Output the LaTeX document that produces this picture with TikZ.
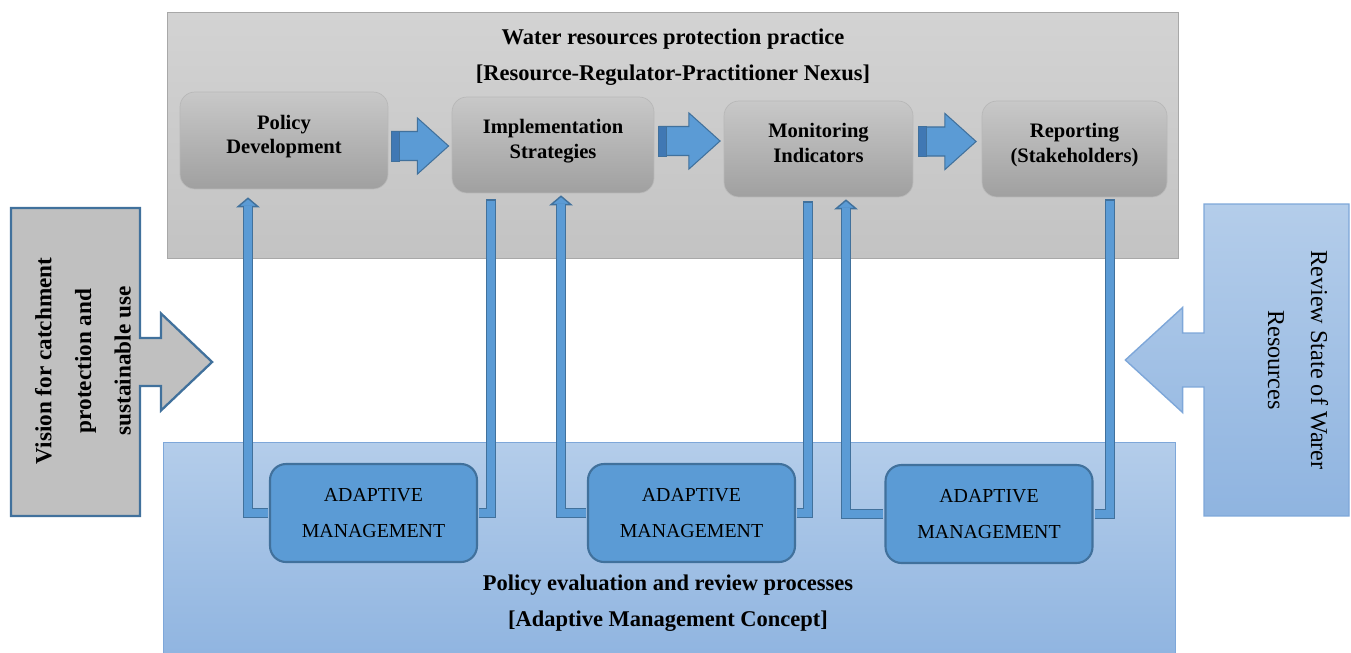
\documentclass[tikz,border=0pt]{standalone}
\usepackage{fontspec}
\setmainfont{Liberation Serif}
\usetikzlibrary{shapes.arrows,arrows.meta,calc}

\definecolor{pipefill}{HTML}{5B9BD5}
\definecolor{pipeedge}{HTML}{41719C}
\definecolor{stripecol}{HTML}{4078B4}
\definecolor{greytop}{HTML}{D3D3D3}
\definecolor{greybot}{HTML}{C3C3C3}
\definecolor{greyline}{HTML}{A8A8A8}
\definecolor{boxtop}{HTML}{C8C8C8}
\definecolor{boxbot}{HTML}{A0A0A0}
\definecolor{boxline}{HTML}{B8B8B8}
\definecolor{bluetop}{HTML}{B4CDEA}
\definecolor{bluebot}{HTML}{8FB4E0}
\definecolor{blueline}{HTML}{7EA7D9}
\definecolor{visfill}{HTML}{C0C0C0}

\newcommand{\lift}{\rule[-0.24cm]{0pt}{0pt}}

\tikzset{
  panel/.style={draw=greyline, top color=greytop, bottom color=greybot, inner sep=0pt},
  bluepanel/.style={draw=blueline, top color=bluetop, bottom color=bluebot, inner sep=0pt},
  procbox/.style={rounded corners=0.3cm, draw=boxline, top color=boxtop, bottom color=boxbot,
    align=center, inner sep=0pt, minimum height=1.92cm,
    font=\fontsize{11.7}{14}\selectfont\bfseries},
  amgbox/.style={rounded corners=0.32cm, draw=pipeedge, line width=1.2pt, fill=pipefill,
    align=center, minimum width=4.14cm, minimum height=1.96cm,
    font=\fontsize{11.3}{13.5}\selectfont},
  title/.style={align=center, font=\fontsize{12.8}{15}\selectfont\bfseries},
  flowarrow/.style={single arrow, draw=pipeedge, fill=pipefill, line width=0.6pt,
    inner xsep=0pt, inner ysep=0.28cm,
    single arrow head extend=0.27cm, single arrow tip angle=84},
  stripe/.style={draw=pipeedge, fill=stripecol, line width=0.4pt},
  pipe/.style={draw=pipeedge, line width=0.21cm, line join=miter,
    postaction={draw=pipefill, line width=0.15cm, arrows=-, #1}},
  pipe/.default={shorten <=0.03cm},
  uparrow/.style={-{Triangle[width=0.47cm, length=0.2cm, fill=pipefill, line width=0.8pt]}},
}

\begin{document}
\begin{tikzpicture}[x=0.02cm, y=-0.02cm]
  \useasboundingbox (0,0) rectangle (1351,652);
  \clip (0,0) rectangle (1351,652);

  % panels
  \node[panel, minimum width=20.22cm, minimum height=4.92cm] (practice) at (672.5,135) {};
  \node[bluepanel, minimum width=20.24cm, minimum height=4.4cm] (review) at (669,552) {};
  \node[title] (practicetitle) at (673,57)
    {Water resources protection practice\\[5.5pt]{[Resource-Regulator-Practitioner Nexus]}};
  \node[title] (reviewtitle) at (668,603)
    {Policy evaluation and review processes\\[5.5pt]{[Adaptive Management Concept]}};

  % side boxes
  \node[arrow box, arrow box arrows={east:1.42cm}, arrow box shaft width=0.96cm,
    arrow box head extend=0.49cm, arrow box tip angle=87, draw=pipeedge, line width=1.3pt,
    fill=visfill, inner sep=0pt, minimum width=2.58cm, minimum height=6.16cm] (vision) at (75.5,362) {};
  \node[rotate=90, align=center, font=\fontsize{13.2}{15.5}\selectfont\bfseries] (visiontext) at (83,361)
    {Vision for catchment\\[7pt]protection and\\[7pt]sustainable use};
  \node[arrow box, arrow box arrows={west:1.56cm}, arrow box shaft width=1.08cm,
    arrow box head extend=0.51cm, arrow box tip angle=85, bluepanel, line width=0.8pt,
    minimum width=2.9cm, minimum height=6.24cm] (state) at (1276.5,360) {};
  \node[rotate=-90, align=center, font=\fontsize{13.8}{16.5}\selectfont] (statetext) at (1298,360)
    {Review State of Warer\\[8pt]Resources};

  % practice steps
  \node[procbox, minimum width=4.16cm, minimum height=1.94cm] (pd) at (284,140.5) {Policy\\Development\lift};
  \node[procbox, minimum width=4.04cm] (is) at (553,145) {Implementation\\Strategies\lift};
  \node[procbox, minimum width=3.78cm] (mi) at (818.5,149) {Monitoring\\Indicators\lift};
  \node[procbox, minimum width=3.7cm] (rs) at (1074.5,149) {Reporting\\(Stakeholders)\lift};

  \node[flowarrow, minimum height=1.14cm] (a1) at ([xshift=-0.16cm,yshift=-0.065cm]$(pd.east)!0.5!(is.west)$) {};
  \node[flowarrow, minimum height=1.22cm] (a2) at ([xshift=-0.15cm,yshift=0.12cm]$(is.east)!0.5!(mi.west)$) {};
  \node[flowarrow, minimum height=1.14cm] (a3) at ([xshift=-0.16cm,yshift=0.15cm]$(mi.east)!0.5!(rs.west)$) {};
  \foreach \a in {a1,a2,a3}
    \draw[stripe] (\a.before tail) rectangle ([xshift=0.16cm]\a.after tail);

  % adaptive management
  \node[amgbox] (am1) at (373.5,513) {ADAPTIVE\\[6.5pt]MANAGEMENT};
  \node[amgbox] (am2) at (691.5,513) {ADAPTIVE\\[6.5pt]MANAGEMENT};
  \node[amgbox] (am3) at (989,514) {ADAPTIVE\\[6.5pt]MANAGEMENT};

  \draw[pipe={shorten >=0.18cm}, uparrow, shorten <=0.6pt] (am1.west) -| ([xshift=-0.72cm,yshift=-0.16cm]pd.south);
  \draw[pipe, shorten >=0.6pt] ([xshift=-1.24cm,yshift=-0.12cm]is.south) |- (am1.east);
  \draw[pipe={shorten >=0.18cm}, uparrow, shorten <=0.6pt] (am2.west) -| ([xshift=0.16cm,yshift=-0.04cm]is.south);
  \draw[pipe, shorten >=0.6pt] ([xshift=-0.21cm,yshift=-0.08cm]mi.south) |- (am2.east);
  \draw[pipe={shorten >=0.18cm}, uparrow, shorten <=0.6pt] (am3.west) -| ([xshift=0.55cm,yshift=-0.04cm]mi.south);
  \draw[pipe, shorten >=0.6pt] ([xshift=0.71cm,yshift=-0.04cm]rs.south) |- (am3.east);
\end{tikzpicture}
\end{document}
